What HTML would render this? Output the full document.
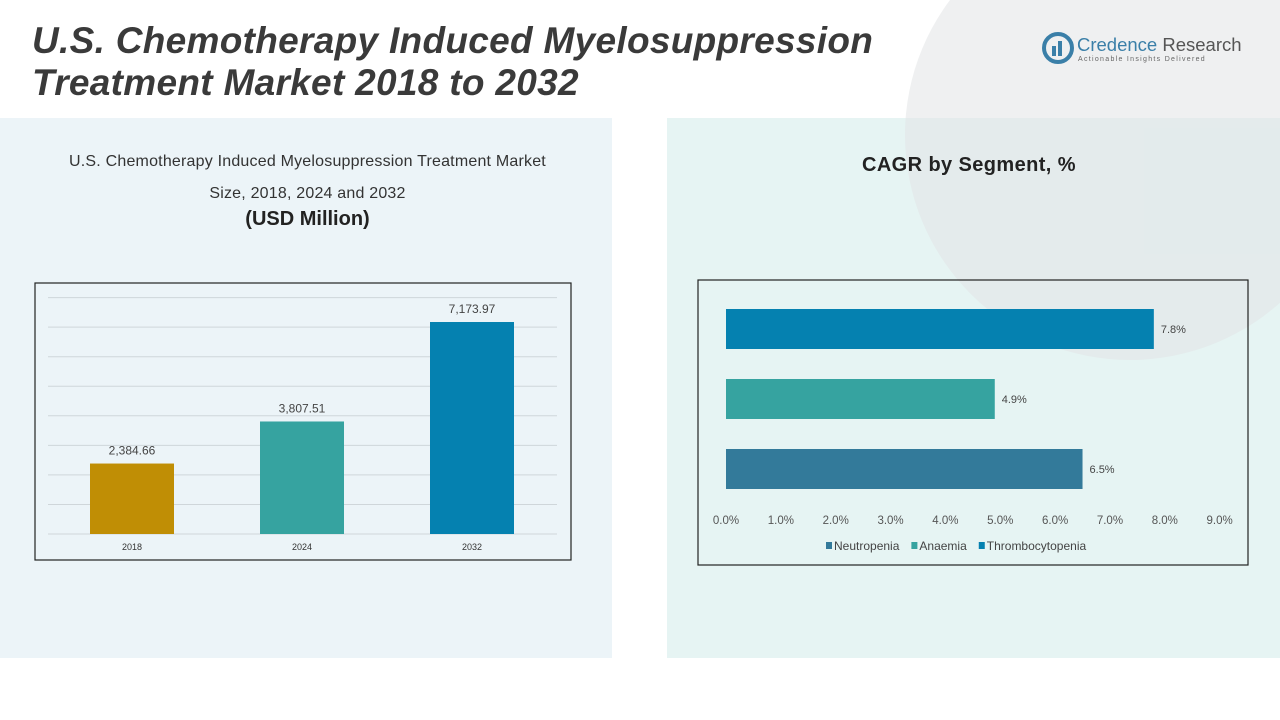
<!DOCTYPE html>
<html><head><meta charset="utf-8"><style>
body{margin:0;width:1280px;height:720px;background:#fff;position:relative;overflow:hidden;font-family:"Liberation Sans",sans-serif}
.abs{position:absolute}
</style></head><body>
<div class="abs" style="left:0;top:118px;width:612px;height:540px;background:#ecf4f8"></div>
<div class="abs" style="left:667px;top:118px;width:613px;height:540px;background:#e6f4f3"></div>
<div class="abs" style="left:0;top:0;width:1280px;height:720px;overflow:hidden">
<div class="abs" style="left:905px;top:-90px;width:450px;height:450px;border-radius:50%;background:rgba(225,228,230,0.55)"></div>
</div>
<div class="abs" style="left:32px;top:20px;font-size:37px;font-weight:bold;font-style:italic;color:#3a3a3a;line-height:42px;letter-spacing:0.3px;white-space:nowrap">U.S. Chemotherapy Induced Myelosuppression<br>Treatment Market 2018 to 2032</div>
<div class="abs" style="left:1042px;top:32px;width:210px;height:34px;overflow:hidden">
<svg width="34" height="34" style="position:absolute;left:0;top:0"><circle cx="16" cy="16" r="14" fill="none" stroke="#3a7fa8" stroke-width="4"/><rect x="10" y="14" width="4" height="10" fill="#3a7fa8"/><rect x="16" y="9" width="4" height="15" fill="#3a7fa8"/></svg>
<div class="abs" style="left:35px;top:2px;font-size:18.5px;color:#3a7fa8;white-space:nowrap">Credence <span style="color:#555">Research</span></div>
<div class="abs" style="left:36px;top:24px;font-size:7px;color:#666;letter-spacing:1.3px;white-space:nowrap">Actionable Insights Delivered</div>
</div>
<div class="abs" style="left:30px;top:146px;width:555px;text-align:center;font-size:16px;color:#333;line-height:32px;letter-spacing:0.2px">U.S. Chemotherapy Induced Myelosuppression Treatment Market<br>Size, 2018, 2024 and 2032</div>
<div class="abs" style="left:30px;top:208px;width:555px;text-align:center;font-size:20px;font-weight:bold;color:#222">(USD Million)</div>
<div class="abs" style="left:862px;top:154px;font-size:20px;font-weight:bold;color:#222;letter-spacing:0.4px">CAGR by Segment, %</div>
<svg class="abs" style="left:0;top:0" width="1280" height="720" id="charts">
<rect x="35" y="283" width="536" height="277" fill="none" stroke="#222" stroke-width="1.2"/>
<rect x="698" y="280" width="550" height="285" fill="none" stroke="#222" stroke-width="1.2"/>
<g id="left"></g><g id="right"></g>
</svg>
<script>
const years=["2018","2024","2032"];
const sizes=[2384.66,3807.51,7173.97];
const sizeLabels=["2,384.66","3,807.51","7,173.97"];
const barColors=["#c08e05","#36a3a0","#0581b0"];
const segments=["Thrombocytopenia","Anaemia","Neutropenia"];
const cagr=[7.8,4.9,6.5];
const segColors=["#0581b0","#36a3a0","#337a9a"];
const xTicks=[0,1,2,3,4,5,6,7,8,9];
const legendNames=["Neutropenia","Anaemia","Thrombocytopenia"];
const legendColors=["#337a9a","#36a3a0","#0581b0"];
const NS="http://www.w3.org/2000/svg";
function mk(p,t,a,txt){const e=document.createElementNS(NS,t);for(const k in a)e.setAttribute(k,a[k]);if(txt!=null)e.textContent=txt;p.appendChild(e);return e;}
const L=document.getElementById('left'),R=document.getElementById('right');
const base=534,perK=29.55;const yS=v=>base-v/1000*perK;
for(let i=0;i<=8;i++){const g=mk(L,'line',{x1:48,x2:557,y1:yS(i*1000),y2:yS(i*1000),stroke:'#cfd6da','stroke-width':1});
}
const cx=[132,302,472];
years.forEach((y,i)=>{const b=mk(L,'rect',{x:cx[i]-42,y:yS(sizes[i]),width:84,height:base-yS(sizes[i]),fill:barColors[i]});

const v=mk(L,'text',{x:cx[i],y:yS(sizes[i])-9,'text-anchor':'middle','font-size':12,fill:'#444'},sizeLabels[i]);

const t=mk(L,'text',{x:cx[i],y:550,'text-anchor':'middle','font-size':9,fill:'#333'},y);
});
const x0=726,per=54.85;const xS=v=>x0+v*per;const rowY=[309,379,449];
segments.forEach((s,i)=>{const b=mk(R,'rect',{x:x0,y:rowY[i],width:xS(cagr[i])-x0,height:40,fill:segColors[i]});

const v=mk(R,'text',{x:xS(cagr[i])+7,y:rowY[i]+24,'font-size':11,fill:'#444'},cagr[i].toFixed(1)+'%');
});
xTicks.forEach(t=>{const e=mk(R,'text',{x:xS(t),y:524,'text-anchor':'middle','font-size':11.5,fill:'#555'},t.toFixed(1)+'%');
});
let lx=826;legendNames.forEach((n,i)=>{const r=mk(R,'rect',{x:lx,y:542,width:6,height:7,fill:legendColors[i]});

const t=mk(R,'text',{x:lx+8,y:550,'font-size':12,fill:'#444'},n);

lx+=8+t.getComputedTextLength()+12;});
</script>
</body></html>
